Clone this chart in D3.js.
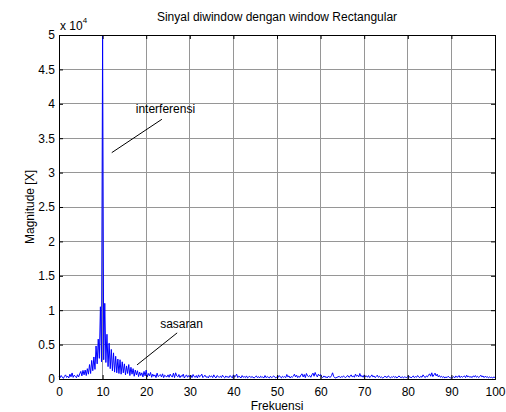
<!DOCTYPE html>
<html>
<head>
<meta charset="utf-8">
<script src="https://cdn.jsdelivr.net/npm/d3@7"></script>
<style>
  html, body { margin: 0; padding: 0; background: #fff; }
  svg { display: block; }
  text { font-family: "Liberation Sans", Arial, sans-serif; fill: #000; }
</style>
</head>
<body>
<svg id="chart" width="506" height="412"></svg>
<script>
// Magnitude spectrum of the rectangular-windowed signal, 0..100 Hz in 0.25 Hz bins
const freqStep = 0.25;
const magnitude = [
  420,180,510,260,90,380,600,230,410,150,700,320,880,240,560,380,190,620,300,750,
  1100,450,1250,600,1300,500,1500,700,2100,800,2700,1200,3200,1400,4800,2200,5800,3000,10500,2500,
  50000,2800,11000,2400,6500,1800,5200,1500,4300,1200,3800,1000,3300,900,2900,800,2800,700,2500,900,
  2200,600,1900,800,2100,500,1700,700,1500,400,1300,600,1200,350,1000,500,900,300,1100,450,
  1300,300,800,450,950,250,700,400,600,200,850,350,500,650,300,750,200,550,400,300,
  600,250,700,400,300,850,200,900,450,300,650,200,500,350,700,150,400,600,250,500,
  300,550,200,650,350,250,500,150,600,300,450,700,200,400,550,250,350,150,500,300,
  450,200,600,300,150,500,350,250,400,200,550,300,150,450,250,350,200,500,300,150,
  600,250,450,700,200,400,300,150,500,250,350,200,450,150,300,400,200,350,250,150,
  300,450,200,350,150,400,250,300,150,500,200,350,250,150,400,200,300,450,250,150,
  350,200,500,300,150,400,250,350,200,650,300,450,150,350,250,400,700,300,550,200,
  400,250,600,750,300,650,200,800,450,350,500,250,600,850,400,950,550,300,700,450,
  650,300,200,450,250,350,150,400,300,250,500,900,350,200,150,250,300,400,200,350,
  250,450,300,200,400,500,250,350,600,300,450,250,700,400,550,300,800,350,500,250,
  600,350,450,250,500,200,350,600,300,450,200,350,550,250,400,200,300,150,250,400,
  300,200,450,350,150,300,250,400,200,350,150,300,450,250,200,350,150,300,250,200,
  400,250,350,150,300,450,200,350,250,500,300,200,400,250,600,350,200,450,300,550,
  750,400,900,350,600,850,450,700,300,500,250,400,200,350,150,300,200,400,250,150,
  300,200,350,150,450,250,300,500,200,400,250,350,450,200,550,300,400,250,350,200,
  450,300,500,250,400,200,350,550,300,450,200,400,250,350,150,300,200,250,150,300,
  200
];

const xTicks = [0, 10, 20, 30, 40, 50, 60, 70, 80, 90, 100];
const yTicks = [0, 5000, 10000, 15000, 20000, 25000, 30000, 35000, 40000, 45000, 50000];
const yExponent = 4;

const titleText = "Sinyal diwindow dengan window Rectangular";
const xLabel = "Frekuensi";
const yLabel = "Magnitude [X]";

// Text annotations with their leader lines, in data coordinates
const notes = [
  { text: "interferensi", tx: 17.6, ty: 38700, x1: 12.1, y1: 32900, x2: 23.6, y2: 37750 },
  { text: "sasaran",      tx: 23.2, ty: 7400,  x1: 17.9, y1: 2050,  x2: 27.1, y2: 6700 }
];

const svg = d3.select("#chart");
const W = 506, H = 412;
const plot = { left: 59, right: 495, top: 35, bottom: 379 };

svg.append("rect").attr("width", W).attr("height", H).attr("fill", "#fff");

const x = d3.scaleLinear().domain([0, 100]).range([plot.left, plot.right]);
const y = d3.scaleLinear().domain([0, 50000]).range([plot.bottom, plot.top]);

const g = svg.append("g");

// grid
g.append("g").selectAll("line").data(xTicks.slice(1, -1)).join("line")
  .attr("x1", d => x(d)).attr("x2", d => x(d))
  .attr("y1", plot.top).attr("y2", plot.bottom)
  .attr("stroke", "#969696").attr("stroke-width", 1).attr("shape-rendering", "crispEdges");
g.append("g").selectAll("line").data(yTicks.slice(1, -1)).join("line")
  .attr("y1", d => y(d)).attr("y2", d => y(d))
  .attr("x1", plot.left).attr("x2", plot.right)
  .attr("stroke", "#969696").attr("stroke-width", 1).attr("shape-rendering", "crispEdges");

// spectrum trace
const pts = magnitude.map((v, i) => [i * freqStep, v]);
g.append("path")
  .datum(pts)
  .attr("fill", "none")
  .attr("stroke", "#0000ff")
  .attr("stroke-width", 1)
  .attr("stroke-linejoin", "round")
  .attr("d", d3.line().x(d => x(d[0])).y(d => y(d[1])));

// axes (ticks inward on all sides, MATLAB style)
const tl = 4;
const fmtY = d => d3.format("~g")(d / Math.pow(10, yExponent));

const axB = d3.axisBottom(x).tickValues(xTicks).tickSize(-tl).tickPadding(8).tickFormat(d3.format("d"));
const axT = d3.axisTop(x).tickValues(xTicks).tickSize(-tl).tickFormat("");
const axL = d3.axisLeft(y).tickValues(yTicks).tickSize(-tl).tickPadding(4).tickFormat(fmtY);
const axR = d3.axisRight(y).tickValues(yTicks).tickSize(-tl).tickFormat("");

function styleAxis(sel) {
  sel.select(".domain").attr("stroke", "#000").attr("stroke-width", 1);
  sel.selectAll(".tick line").attr("stroke", "#000");
  sel.selectAll("text").attr("font-size", 12).attr("font-family", "Liberation Sans, Arial, sans-serif").attr("fill", "#000");
}

g.append("g").attr("transform", `translate(0,${plot.bottom})`).call(axB).call(styleAxis);
g.append("g").attr("transform", `translate(0,${plot.top})`).call(axT).call(styleAxis);
g.append("g").attr("transform", `translate(${plot.left},0)`).call(axL).call(styleAxis);
g.append("g").attr("transform", `translate(${plot.right},0)`).call(axR).call(styleAxis);

// exponent label
const ex = svg.append("text").attr("x", plot.left + 1).attr("y", 30).attr("font-size", 12);
ex.append("tspan").text("x 10");
ex.append("tspan").attr("dy", -7).attr("font-size", 8).text(yExponent);

// title and axis labels
svg.append("text").attr("x", (plot.left + plot.right) / 2).attr("y", 21)
  .attr("text-anchor", "middle").attr("font-size", 12).text(titleText);
svg.append("text").attr("x", (plot.left + plot.right) / 2).attr("y", 410)
  .attr("text-anchor", "middle").attr("font-size", 12).text(xLabel);
svg.append("text")
  .attr("transform", `translate(34,${(plot.top + plot.bottom) / 2}) rotate(-90)`)
  .attr("text-anchor", "middle").attr("font-size", 12).text(yLabel);

// annotations
const ng = svg.append("g");
notes.forEach(n => {
  ng.append("line")
    .attr("x1", x(n.x1)).attr("y1", y(n.y1))
    .attr("x2", x(n.x2)).attr("y2", y(n.y2))
    .attr("stroke", "#000").attr("stroke-width", 1);
  ng.append("text").attr("x", x(n.tx)).attr("y", y(n.ty))
    .attr("font-size", 12).text(n.text);
});
</script>
</body>
</html>
